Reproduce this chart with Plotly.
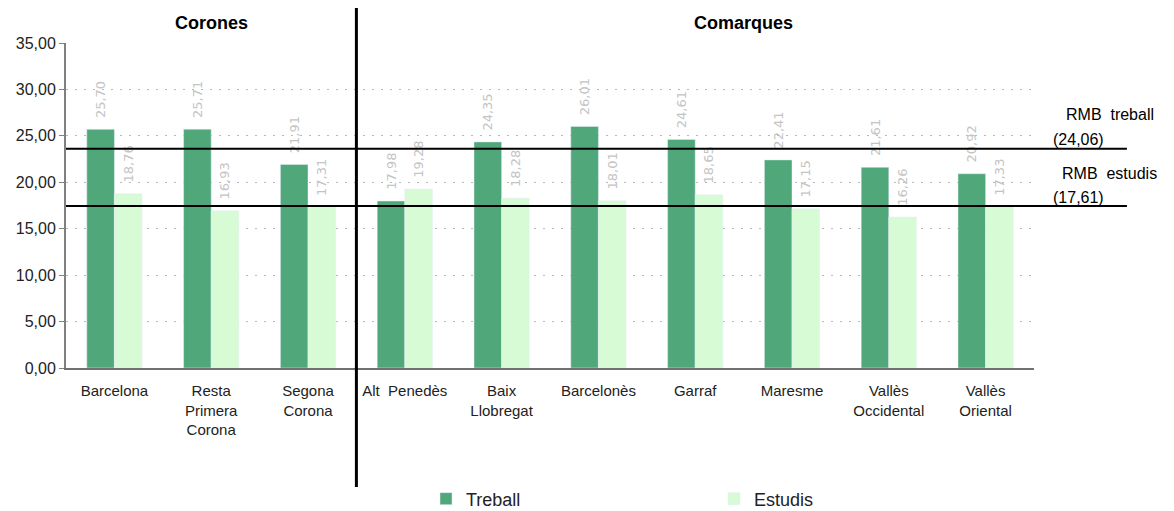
import plotly.graph_objects as go

# dades
categories = ['Barcelona', 'Resta<br>Primera<br>Corona', 'Segona<br>Corona', 'Alt  Penedès',
              'Baix<br>Llobregat', 'Barcelonès', 'Garraf', 'Maresme',
              'Vallès<br>Occidental', 'Vallès<br>Oriental']
treball = [25.70, 25.71, 21.91, 17.98, 24.35, 26.01, 24.61, 22.41, 21.61, 20.92]
estudis = [18.76, 16.93, 17.31, 19.28, 18.28, 18.01, 18.65, 17.15, 16.26, 17.33]

# línies RMB (posició llegida al gràfic) i etiquetes
rmb_treball_line = 23.6
rmb_estudis_line = 17.45
rmb_treball_text = '(24,06)'
rmb_estudis_text = '(17,61)'

VERD = '#4fa77a'
VERD_CLAR = '#d7fbd5'

fig = go.Figure()

for nom, vals, color in [('Treball', treball, VERD), ('Estudis', estudis, VERD_CLAR)]:
    fig.add_trace(go.Bar(
        x=categories, y=vals, name=nom,
        marker_color=color,
        texttemplate='\u00a0\u00a0%{y:.2f}', textposition='outside', textangle=-90,
        textfont=dict(color='#c4c4c4', size=13, family='DejaVu Sans'),
        cliponaxis=False, constraintext='none'
    ))

# separador Corones / Comarques
fig.add_shape(type='line', xref='x', yref='paper', x0=2.5, x1=2.5, y0=-0.366, y1=1.108,
              line=dict(color='black', width=3))
# línies RMB
for yv in [rmb_treball_line, rmb_estudis_line]:
    fig.add_shape(type='line', xref='paper', yref='y', x0=0, x1=1.096, y0=yv, y1=yv,
                  line=dict(color='black', width=2))

anots = [
    dict(text='<b>Corones</b>', x=1, xref='x', y=1.0615, font_size=18),
    dict(text='<b>Comarques</b>', x=6.5, xref='x', y=1.0615, font_size=18),
    dict(text='RMB  treball', x=1.0785, y=0.7815, font_size=16),
    dict(text=rmb_treball_text, x=1.0176, y=0.7046, font_size=16, xanchor='left'),
    dict(text='RMB  estudis', x=1.0785, y=0.60, font_size=16),
    dict(text=rmb_estudis_text, x=1.0176, y=0.526, font_size=16, xanchor='left'),
]
for a in anots:
    fig.add_annotation(
        text=a['text'], x=a['x'], y=a['y'],
        xref=a.get('xref', 'paper'), yref='paper',
        xanchor=a.get('xanchor', 'center'), yanchor='middle',
        showarrow=False,
        font=dict(size=a['font_size'], color='black', family='Liberation Sans')
    )

fig.update_layout(
    width=1166, height=503,
    barmode='group', bargap=0.43, bargroupgap=0,
    separators=',.',
    plot_bgcolor='white', paper_bgcolor='white',
    font=dict(family='Liberation Sans', color='#222222'),
    margin=dict(l=58, r=140, t=35, b=143, autoexpand=False),
    showlegend=True,
    legend=dict(orientation='h', xref='container', yref='container',
                x=0.3585, y=0.024, xanchor='left', yanchor='middle',
                entrywidth=243, entrywidthmode='pixels', itemwidth=30,
                font=dict(size=18, color='#222222')),
    xaxis=dict(
        automargin=False,
        showline=True, linecolor='#707070', linewidth=2,
        ticks='', tickfont=dict(size=15, color='#222222'),
        ticklabelstandoff=8,
        showgrid=False
    ),
    yaxis=dict(
        automargin=False,
        range=[0, 35], dtick=5, tickformat='.2f',
        showline=True, linecolor='#808080', linewidth=2,
        ticks='outside', ticklen=5, tickcolor='#808080',
        tickfont=dict(size=16, color='#222222'),
        showgrid=True, gridcolor='#b8b8b8', griddash='2px,7px', gridwidth=1,
        zeroline=False
    )
)

fig.write_html("out.html")
